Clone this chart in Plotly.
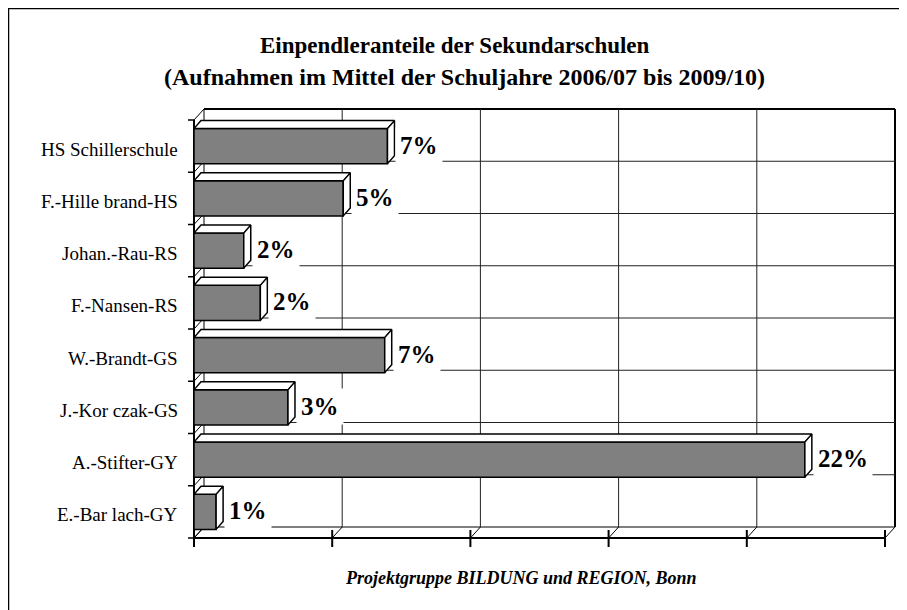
import plotly.graph_objects as go

# ---------------- data ----------------
categories = ["HS Schillerschule", "F.-Hille brand-HS", "Johan.-Rau-RS", "F.-Nansen-RS",
              "W.-Brandt-GS", "J.-Kor czak-GS", "A.-Stifter-GY", "E.-Bar lach-GY"]
shares = [7.0, 5.4, 1.8, 2.4, 6.9, 3.4, 22.1, 0.8]
value_labels = ["7%", "5%", "2%", "2%", "7%", "3%", "22%", "1%"]
x_ticks = [0, 5, 10, 15, 20, 25]

title_line1 = "Einpendleranteile der Sekundarschulen"
title_line2 = "(Aufnahmen im Mittel der Schuljahre 2006/07 bis 2009/10)"
source_text = "Projektgruppe BILDUNG und REGION, Bonn"

# ---------------- geometry (page pixels) ----------------
FW, FH = 907, 610
BODY = 8                      # default page body margin
L, R, T, B = 180, 900, 100, 552
X0PX, PX_X = 194.0, 27.64      # pixel of 0 %, pixels per %
Y0PX, PX_Y = 120.0, 52.25      # pixel of top category edge, pixels per category
n = len(categories)
ypos = list(range(n))
xmax = x_ticks[-1]

xr = [(L - X0PX) / PX_X, (R - X0PX) / PX_X]
yr = [(B - Y0PX) / PX_Y - 0.5, (T - Y0PX) / PX_Y - 0.5]

WDX, WDY = 10 / PX_X, 11 / PX_Y   # wall depth
BDX, BDY = 7 / PX_X, 8 / PX_Y     # bar depth
BW = 0.67

FONT = "Liberation Serif"


def px_x(p):
    return (p - L) / (R - L)


def px_y(p):
    return (B - p) / (B - T)


shapes = []


def line(x0, y0, x1, y1, w=1, color="black", layer="below"):
    shapes.append(dict(type="line", xref="x", yref="y", x0=x0, y0=y0, x1=x1, y1=y1,
                       line=dict(color=color, width=w), layer=layer))


top_b = -0.5
bot_b = n - 0.5

# back wall
shapes.append(dict(type="rect", xref="x", yref="y", x0=WDX, x1=xmax + WDX,
                   y0=top_b - WDY, y1=bot_b - WDY, line=dict(color="black", width=1),
                   fillcolor="white", layer="below"))
line(WDX, top_b - WDY, xmax + WDX, top_b - WDY, w=2)
line(xmax + WDX, top_b - WDY, xmax + WDX, bot_b - WDY, w=2)
for t in x_ticks[1:-1]:
    line(t + WDX, top_b - WDY, t + WDX, bot_b - WDY, w=1, color="#222")
for k in range(1, n):
    b = k - 0.5
    line(WDX, b - WDY, xmax + WDX, b - WDY, w=1, color="#222")

# left wall / category ticks
line(0, top_b, 0, bot_b + 9 / PX_Y, w=2)
for k in range(n + 1):
    b = k - 0.5
    line(-6 / PX_X, b, 0, b, w=1.5)
    line(0, b, WDX, b - WDY, w=1)

# floor
line(0, bot_b, xmax, bot_b, w=2)
for t in x_ticks:
    line(t, bot_b, t + WDX, bot_b - WDY, w=1)
    line(t, bot_b - 8 / PX_Y, t, bot_b + 9 / PX_Y, w=2)

# outer frame
shapes.append(dict(type="rect", xref="paper", yref="paper",
                   x0=px_x(8), x1=px_x(960), y0=px_y(8), y1=px_y(680),
                   line=dict(color="black", width=2.5), fillcolor="rgba(0,0,0,0)",
                   layer="above"))

fig = go.Figure()

# front faces
fig.add_trace(go.Bar(x=shares, y=ypos, orientation="h", width=BW,
                     marker=dict(color="#808080", line=dict(color="black", width=1.5)),
                     hoverinfo="skip", showlegend=False))

# top faces and side faces
tx, ty, sx, sy = [], [], [], []
for v, c in zip(shares, ypos):
    top = c - BW / 2
    bot = c + BW / 2
    tx += [0, v, v + BDX, BDX, 0, None]
    ty += [top, top, top - BDY, top - BDY, top, None]
    sx += [v, v + BDX, v + BDX, v, v, None]
    sy += [top, top - BDY, bot - BDY, bot, top, None]
for xs, ys in ((tx, ty), (sx, sy)):
    fig.add_trace(go.Scatter(x=xs, y=ys, mode="lines", fill="toself",
                             fillcolor="white", line=dict(color="black", width=1.5),
                             hoverinfo="skip", showlegend=False))

annotations = []
for v, c, lab in zip(shares, ypos, value_labels):
    annotations.append(dict(x=v + BDX, y=c, xref="x", yref="y", text="<b>%s</b>" % lab,
                            showarrow=False, xanchor="left", yanchor="middle",
                            bgcolor="white", borderpad=4, xshift=1, yshift=1,
                            font=dict(family=FONT, size=25, color="black")))
for c, name in zip(ypos, categories):
    annotations.append(dict(x=0, y=c, xref="paper", yref="y", text=name,
                            showarrow=False, xanchor="right", yanchor="middle",
                            yshift=-3, font=dict(family=FONT, size=19, color="black")))

annotations.append(dict(x=px_x(455), y=px_y(45), xref="paper", yref="paper",
                        text="<b>%s</b>" % title_line1, showarrow=False,
                        xanchor="center", yanchor="middle",
                        font=dict(family=FONT, size=23, color="black")))
annotations.append(dict(x=px_x(464), y=px_y(77), xref="paper", yref="paper",
                        text="<b>%s</b>" % title_line2, showarrow=False,
                        xanchor="center", yanchor="middle",
                        font=dict(family=FONT, size=24, color="black")))
annotations.append(dict(x=px_x(521), y=px_y(578), xref="paper", yref="paper",
                        text="<b><i>%s</i></b>" % source_text, showarrow=False,
                        xanchor="center", yanchor="middle",
                        font=dict(family=FONT, size=18, color="black")))

fig.update_layout(
    width=FW, height=FH, autosize=False,
    margin=dict(l=L - BODY, r=FW - (R - BODY), t=T - BODY, b=FH - (B - BODY), pad=0),
    paper_bgcolor="white", plot_bgcolor="white",
    xaxis=dict(range=xr, showgrid=False, zeroline=False, showticklabels=False,
               showline=False, ticks=""),
    yaxis=dict(range=yr, showgrid=False, zeroline=False, showticklabels=False,
               showline=False, ticks=""),
    shapes=shapes, annotations=annotations, showlegend=False,
    font=dict(family=FONT),
)

fig.write_html("out.html")
